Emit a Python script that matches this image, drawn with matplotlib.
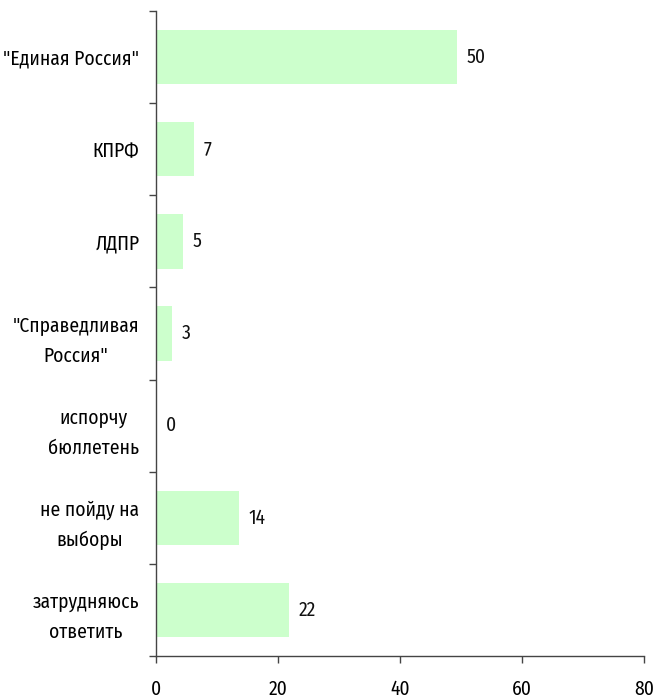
import matplotlib
matplotlib.use("Agg")
import matplotlib.pyplot as plt

plt.rcParams['font.family'] = ['Fira Sans Condensed', 'DejaVu Sans']

categories = ['"Единая Россия"', 'КПРФ', 'ЛДПР', '"Справедливая\nРоссия"',
              'испорчу\nбюллетень', 'не пойду на\nвыборы', 'затрудняюсь\nответить']
values = [49.3, 6.2, 4.4, 2.6, 0.0, 13.6, 21.8]
value_labels = ['50', '7', '5', '3', '0', '14', '22']
x_ticks = [0, 20, 40, 60, 80]

fig = plt.figure(figsize=(6.54, 6.98), dpi=100)
ax = fig.add_axes([156 / 654, 42 / 698, 488 / 654, 645 / 698])

pos = list(range(len(categories)))
ax.barh(pos, values, height=0.59, color='#ccffcc', edgecolor='none')

for p, v, lab in zip(pos, values, value_labels):
    ax.annotate(lab, (v, p), xytext=(10, 0), textcoords='offset pixels',
                va='center', ha='left', fontsize=14, color='#111111')

ax.set_xlim(0, 80)
ax.set_ylim(len(categories) - 0.5, -0.5)
ax.set_xticks(x_ticks)
ax.set_xticklabels([str(t) for t in x_ticks], fontsize=14)

# ticks sit on the category boundaries, labels in the middle
ax.set_yticks([i - 0.5 for i in range(len(categories) + 1)])
ax.set_yticklabels([])
ax.set_yticks(pos, minor=True)
ax.set_yticklabels(categories, minor=True, fontsize=14, linespacing=1.7)
for t in ax.get_yticklabels(minor=True):
    t.set_multialignment('center')
ax.tick_params(axis='y', which='minor', length=0, pad=12)
ax.tick_params(axis='y', which='major', length=5, width=1, color='#444444', direction='out')
ax.tick_params(axis='x', length=5, width=1, color='#444444', direction='out', pad=12)

for s in ['top', 'right']:
    ax.spines[s].set_visible(False)
for s in ['left', 'bottom']:
    ax.spines[s].set_color('#444444')
    ax.spines[s].set_linewidth(1)

fig.savefig('out.png', dpi=100)
